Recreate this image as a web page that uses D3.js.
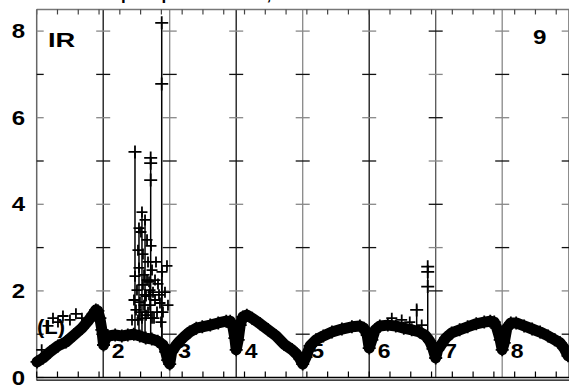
<!DOCTYPE html>
<html><head><meta charset="utf-8">
<script src="https://cdn.jsdelivr.net/npm/d3@7"></script>
<style>body{margin:0;background:#fff}svg{display:block}text{font-family:"Liberation Sans",Arial,sans-serif;font-weight:bold}</style>
</head><body><svg id="c" width="569" height="388"></svg>
<script>
// main band (dense track of points)
const bandX = [0.005,0.095,0.20,0.32,0.44,0.56,0.68,0.77,0.85,0.89,0.92,0.95,0.98,1.005,1.03,1.07,
  1.18,1.28,1.37,1.46,1.55,1.64,1.73,1.82,1.90,1.94,1.97,2.00,2.03,
  2.09,2.15,2.23,2.30,2.40,2.49,2.61,2.73,2.85,2.91,2.95,2.98,3.00,3.03,3.06,3.10,3.16,
  3.24,3.36,3.48,3.60,3.72,3.84,3.91,3.96,4.00,4.05,4.11,4.20,4.31,4.44,4.59,4.74,4.86,4.92,4.97,5.00,5.04,5.09,5.16,
  5.28,5.40,5.52,5.64,5.76,5.85,5.91,5.96,6.00,6.03,6.08,
  6.15,6.24,6.36,6.48,6.61,6.73,6.82,6.88,6.92,6.97,7.00,7.03,7.07,7.13,7.21,7.33,7.45,7.57,7.69,7.79,7.87,7.93,7.99];
const bandY = [0.36,0.45,0.59,0.73,0.82,0.98,1.14,1.30,1.47,1.56,1.54,1.37,1.10,0.75,0.87,0.96,
  0.98,0.96,0.98,1.00,0.96,0.91,0.89,0.84,0.75,0.59,0.40,0.31,0.59,
  0.73,0.84,0.96,1.05,1.14,1.17,1.21,1.26,1.30,1.30,1.17,0.91,0.64,0.87,1.21,1.40,1.44,
  1.37,1.24,1.10,0.96,0.77,0.64,0.54,0.43,0.31,0.47,0.73,0.87,0.96,1.05,1.12,1.17,1.19,1.14,0.98,0.68,0.87,1.10,1.19,
  1.21,1.19,1.14,1.10,1.05,0.96,0.84,0.66,0.45,0.64,0.75,
  0.91,1.03,1.10,1.17,1.24,1.28,1.30,1.28,1.14,0.87,0.64,0.80,1.14,1.26,1.26,1.19,1.12,1.05,0.96,0.87,0.80,0.68,0.50];
// scattered points above the band
const scatX = [0.17,0.245,0.32,0.395,0.50,0.59,0.68,0.075,
  1.433,1.463,1.478,1.493,1.508,1.523,1.538,1.553,1.568,1.583,1.598,1.614,1.629,1.644,1.659,1.674,1.689,1.704,1.719,1.734,1.749,1.764,1.794,1.824,1.854,1.884,1.899,1.929,1.959,1.974,1.629,1.538,
  1.523,1.553,1.583,1.614,1.644,1.674,1.704,1.734,1.779,1.809,1.839,1.869,1.598,1.659,1.779,1.689,
  5.34,5.489,5.61,5.79];
const scatY = [1.19,1.37,1.28,1.42,1.33,1.47,1.37,0.64,
  1.33,1.79,2.34,1.56,2.02,2.94,2.53,1.74,3.36,3.82,2.85,2.37,1.91,1.44,3.18,2.67,2.21,1.67,3.04,2.48,1.97,1.37,2.67,2.16,1.72,2.44,1.51,1.97,2.58,1.67,3.64,3.45,
  1.33,1.51,1.37,1.67,1.88,1.51,2.02,1.37,1.79,1.51,1.91,1.28,2.14,2.25,2.25,1.91,
  1.37,1.33,1.28,1.21];
// outlier spikes: x, base value, top value
const spikeX    = [1.478,1.538,1.583,1.629,1.714,1.880,1.884,5.714,5.880];
const spikeBase = [1.0,1.0,1.0,1.0,0.9,0.8,0.8,1.1,1.0];
const spikeTop  = [5.21,3.45,3.82,3.64,5.07,8.19,2.44,1.67,2.56];
// marks along spikes
const spikeMarkX = [1.478,1.714,1.714,1.714,1.880,1.880,5.714,5.880,5.880,5.880];
const spikeMarkY = [5.21,5.07,4.95,4.56,8.19,6.78,1.56,2.56,2.44,2.10];
const yTickVals = [0,1,2,3,4,5,6,7,8];
const yLabels = ["0","2","4","6","8"];
const gridPos = [1,2,3,4,5,6,7,8];
const gridTone = ["#111","#888","#111","#888","#111","#555","#888","#888"];
const segLabels = ["2","3","4","5","6","7","8"];
const minorTicks = d3.range(0, 8.01, 0.3125);

const svg = d3.select("#c");
const x = d3.scaleLinear([0, 8], [36.7, 568.7]);
const y = d3.scaleLinear([0, 8.5], [377.5, 9.45]);
const cross = s => `M${-s},0H${s}M0,${-s}V${s}`;
const wide = (sel, px, py, sx) => sel.attr("transform", `translate(${px},${py}) scale(${sx},1)`);

// title (clipped at the top edge, as in the reference)
svg.append("text").attr("x", 300).attr("y", -0.5).attr("text-anchor", "middle")
  .attr("font-size", 17).text("Input spectra of IRS, all scaled to the calibration");

// grid vertical lines
gridPos.forEach((g, i) => {
  svg.append("line").attr("x1", x(g)).attr("x2", x(g)).attr("y1", y(8.5)).attr("y2", y(0))
    .attr("stroke", gridTone[i]).attr("stroke-width", 1.3);
  yTickVals.slice(1).forEach(v => {
    svg.append("line").attr("x1", x(g) - 7).attr("x2", x(g) + 7).attr("y1", y(v)).attr("y2", y(v))
      .attr("stroke", v % 2 === (i === 5 ? 1 : 0) ? "#888" : "#111").attr("stroke-width", 1.3);
  });
});

// top axis
svg.append("line").attr("x1", x(0)).attr("x2", 569).attr("y1", y(8.5)).attr("y2", y(8.5)).attr("stroke", "#777").attr("stroke-width", 1.5);
svg.selectAll(".tt").data(minorTicks).join("line").attr("x1", d => x(d)).attr("x2", d => x(d))
  .attr("y1", y(8.5)).attr("y2", y(8.5) + 5).attr("stroke", "#444").attr("stroke-width", 1.2);
// left axis
svg.append("line").attr("x1", x(0)).attr("x2", x(0)).attr("y1", y(8.5)).attr("y2", y(0) + 3).attr("stroke", "#666").attr("stroke-width", 1.5);
svg.selectAll(".lt").data(yTickVals).join("line").attr("x1", x(0)).attr("x2", x(0) + 7)
  .attr("y1", d => y(d)).attr("y2", d => y(d)).attr("stroke", d => d % 2 === 0 ? "#888" : "#111").attr("stroke-width", 1.3);
svg.selectAll(".yl").data(yLabels).join("text").attr("text-anchor", "end").attr("font-size", 20)
  .each(function(d) { wide(d3.select(this), 25, y(+d) + 7, 1.2); }).text(d => d);
// bottom axis (double)
svg.append("line").attr("x1", x(0)).attr("x2", 569).attr("y1", y(0)).attr("y2", y(0)).attr("stroke", "#000").attr("stroke-width", 1.5);
svg.append("line").attr("x1", x(0)).attr("x2", 569).attr("y1", y(0) + 2.7).attr("y2", y(0) + 2.7).attr("stroke", "#000").attr("stroke-width", 1.3);
svg.selectAll(".bt").data(minorTicks).join("line").attr("x1", d => x(d)).attr("x2", d => x(d))
  .attr("y1", y(0)).attr("y2", y(0) - 6).attr("stroke", "#000").attr("stroke-width", 1.2);

// segment labels
svg.selectAll(".sl").data(segLabels).join("text").attr("font-size", 20)
  .each(function(d, i) { wide(d3.select(this), x(gridPos[i]) + 8.5, y(0.45), 1.15); }).text(d => d);
wide(svg.append("text").attr("font-size", 21), 48, 47, 1.3).text("IR");
wide(svg.append("text").attr("font-size", 21), 533, 43.5, 1.15).text("9");
wide(svg.append("text").attr("font-size", 20), 37, 334, 1.1).text("(L)");

// data
const band = bandX.map((v, i) => [v, bandY[i]]);
svg.append("path").datum(band).attr("d", d3.line().x(d => x(d[0])).y(d => y(d[1])))
  .attr("fill", "none").attr("stroke", "#000").attr("stroke-width", 11).attr("stroke-linejoin", "round").attr("stroke-linecap", "round");
spikeX.forEach((s, i) => {
  svg.append("line").attr("x1", x(s)).attr("x2", x(s)).attr("y1", y(spikeBase[i])).attr("y2", y(spikeTop[i]))
    .attr("stroke", "#000").attr("stroke-width", 1.5);
});
const marks = svg.append("g").attr("stroke", "#000").attr("stroke-width", 1.8).attr("fill", "none");
marks.selectAll(".b").data(band).join("path").attr("transform", d => `translate(${x(d[0])},${y(d[1])})`).attr("d", cross(6.5));
marks.selectAll(".s").data(scatX.map((v, i) => [v, scatY[i]])).join("path")
  .attr("transform", d => `translate(${x(d[0])},${y(d[1])})`).attr("d", cross(5.5));
marks.selectAll(".m").data(spikeMarkX.map((v, i) => [v, spikeMarkY[i]])).join("path")
  .attr("transform", d => `translate(${x(d[0])},${y(d[1])})`).attr("d", cross(6.5));
</script></body></html>
